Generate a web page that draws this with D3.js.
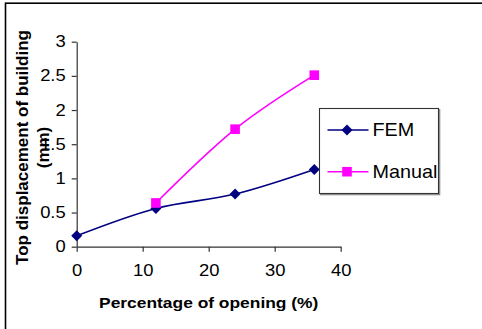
<!DOCTYPE html>
<html>
<head>
<meta charset="utf-8">
<script src="https://cdn.jsdelivr.net/npm/d3@7"></script>
<style>
  html, body { margin: 0; padding: 0; background: #fff; }
  svg { display: block; }
  text { font-family: "Liberation Sans", Arial, sans-serif; fill: #000; }
</style>
</head>
<body>
<script>
// Percentage of wall opening (x) and top displacement of the building in mm
const openings = [0, 12, 24, 36];
const femValues = [0.16, 0.56, 0.77, 1.13];
const manualValues = [null, 0.64, 1.72, 2.51];
const seriesNames = ["FEM", "Manual"];
const xTicks = [0, 10, 20, 30, 40];
const yTicks = [0, 0.5, 1, 1.5, 2, 2.5, 3];

const W = 482, H = 329;
const plot = { left: 76.7, right: 340.7, top: 41.7, bottom: 246.7 };

const svg = d3.select("body").append("svg")
  .attr("width", W).attr("height", H);

// outer frame (runs off the right and bottom edges)
svg.append("rect")
  .attr("x", 5.5).attr("y", 3.2)
  .attr("width", W + 10).attr("height", H + 10)
  .attr("fill", "none").attr("stroke", "#000").attr("stroke-width", 1.6);

const x = d3.scaleLinear().domain([0, 40]).range([plot.left, plot.right]);
const y = d3.scaleLinear().domain([0, 3]).range([plot.bottom, plot.top]);

const axisColor = "#333";
const tickScale = 1.15;

// y axis
const gy = svg.append("g")
  .attr("transform", `translate(${plot.left},0)`)
  .call(d3.axisLeft(y).tickValues(yTicks).tickSize(5).tickSizeOuter(0)
    .tickFormat(d3.format("")));
gy.select(".domain").attr("stroke", axisColor).attr("stroke-width", 1.2);
gy.selectAll(".tick line").attr("stroke", axisColor).attr("stroke-width", 1.2);
gy.selectAll(".tick text")
  .attr("font-size", 16).attr("font-family", "Liberation Sans, Arial, sans-serif")
  .attr("fill", "#000")
  .attr("x", -11 / tickScale)
  .attr("transform", `scale(${tickScale},1)`);

// x axis
const gx = svg.append("g")
  .attr("transform", `translate(0,${plot.bottom})`)
  .call(d3.axisBottom(x).tickValues(xTicks).tickSize(5).tickSizeOuter(0));
gx.select(".domain").attr("stroke", axisColor).attr("stroke-width", 1.2);
gx.selectAll(".tick line").attr("stroke", axisColor).attr("stroke-width", 1.2);
gx.selectAll(".tick text")
  .attr("font-size", 16).attr("font-family", "Liberation Sans, Arial, sans-serif")
  .attr("fill", "#000")
  .attr("y", 29).attr("dy", 0)
  .attr("transform", `scale(${tickScale},1)`);

// axis titles
svg.append("g")
  .attr("transform", `translate(${(plot.left + plot.right) / 2},308) scale(1.16,1)`)
  .append("text")
  .attr("text-anchor", "middle").attr("font-size", 15).attr("font-weight", "bold")
  .text("Percentage of opening (%)");

const yTitle = svg.append("g")
  .attr("transform", `translate(0,147.5)`);
yTitle.append("text")
  .attr("transform", "translate(28,0) rotate(-90)")
  .attr("text-anchor", "middle").attr("font-size", 17).attr("font-weight", "bold")
  .text("Top displacement of building");
yTitle.append("text")
  .attr("transform", "translate(49,0) rotate(-90)")
  .attr("text-anchor", "middle").attr("font-size", 17).attr("font-weight", "bold")
  .text("(mm)");

// a square diamond (rotated square) marker
const squareDiamond = {
  draw(context, size) {
    const r = Math.sqrt(size / 2);
    context.moveTo(0, -r);
    context.lineTo(r, 0);
    context.lineTo(0, r);
    context.lineTo(-r, 0);
    context.closePath();
  }
};

// series
const femColor = "#000080", manualColor = "#FF00FF";
const series = [
  { name: seriesNames[0], values: femValues, color: femColor, shape: squareDiamond, size: 60 },
  { name: seriesNames[1], values: manualValues, color: manualColor, shape: d3.symbolSquare, size: 92 }
];

const line = d3.line()
  .defined(d => d.v != null)
  .x(d => x(d.x)).y(d => y(d.v))
  .curve(d3.curveMonotoneX);

series.forEach(s => {
  const pts = openings.map((o, i) => ({ x: o, v: s.values[i] })).filter(d => d.v != null);
  svg.append("path")
    .datum(pts)
    .attr("d", line)
    .attr("fill", "none").attr("stroke", s.color).attr("stroke-width", 1.6);
});
series.forEach(s => {
  const pts = openings.map((o, i) => ({ x: o, v: s.values[i] })).filter(d => d.v != null);
  svg.append("g").selectAll("path")
    .data(pts).join("path")
    .attr("transform", d => `translate(${x(d.x)},${y(d.v)})`)
    .attr("d", d3.symbol().type(s.shape).size(s.size))
    .attr("fill", s.color);
});

// legend
const lg = svg.append("g").attr("transform", "translate(319.5,108.5)");
lg.append("rect").attr("x", 1.2).attr("y", 1.2).attr("width", 119).attr("height", 85)
  .attr("fill", "none").attr("stroke", "#888").attr("stroke-width", 1.2);
lg.append("rect").attr("width", 119).attr("height", 85)
  .attr("fill", "#fff").attr("stroke", "#333").attr("stroke-width", 1.1);
series.forEach((s, i) => {
  const cy = 21.5 + i * 41.7;
  lg.append("line").attr("x1", 8).attr("x2", 49).attr("y1", cy).attr("y2", cy)
    .attr("stroke", s.color).attr("stroke-width", 1.6);
  lg.append("path").attr("transform", `translate(27.5,${cy})`)
    .attr("d", d3.symbol().type(s.shape).size(s.size)).attr("fill", s.color);
  lg.append("g").attr("transform", `translate(53,${cy + 6.4}) scale(1.1,1)`)
    .append("text").attr("font-size", 18).text(s.name);
});
</script>
</body>
</html>
